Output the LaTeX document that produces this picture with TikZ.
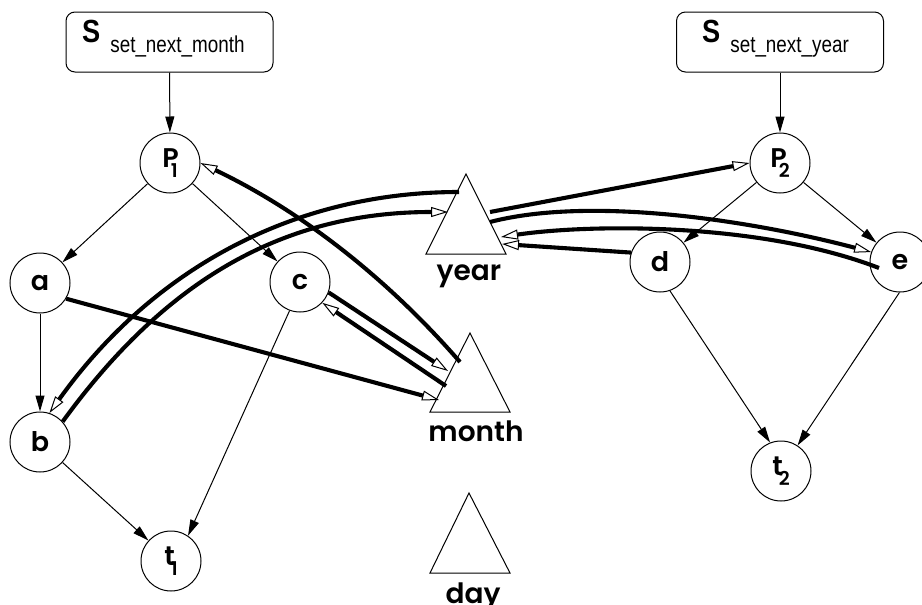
\documentclass[tikz,border=0pt]{standalone}
\usepackage{fontspec}
\usepackage{graphicx}
\setmainfont{Liberation Sans}
\newfontfamily\labfont{Poppins SemiBold}
\usetikzlibrary{arrows.meta}
\newcommand\mysubx[3]{#1\kern#2\raisebox{-10pt}{\fontsize{19}{19}\selectfont #3}}
\tikzset{
  statec/.style={circle, draw, line width=1pt, minimum size=60pt, inner sep=0pt,
    font=\labfont\fontsize{27}{27}\selectfont},
  sbox/.style={draw, rounded corners=9pt, line width=1pt, minimum width=207pt,
    minimum height=60pt, inner sep=0pt},
  stext/.style={anchor=base west, inner sep=0pt},
  tri/.style={draw, line width=1pt, line join=miter},
  trilabel/.style={anchor=base, inner sep=0pt, font=\labfont\fontsize{28}{28}\selectfont},
  thinarrow/.style={line width=1pt, -{Triangle[length=16pt,width=9pt]}},
  thickarrow/.style={line width=4.1pt, -{Triangle[open,length=17pt,width=10pt,line width=1pt]}}
}
\begin{document}
\begin{tikzpicture}[x=1pt,y=-1pt]
\useasboundingbox (0,0) rectangle (922,605);

% S boxes
\node (S1) [sbox] at (169.5,42) {};
\node (S1t) [stext] at (82,42.7) {\scalebox{0.85}[1]{\fontsize{32}{32}\selectfont\bfseries S}\hspace{10pt}\raisebox{-9.6pt}{\scalebox{0.82}[1]{\fontsize{23}{23}\selectfont set\_next\_month}}};
\node (S2) [sbox] at (780,42) {};
\node (S2t) [stext] at (702,42.7) {\scalebox{0.85}[1]{\fontsize{32}{32}\selectfont\bfseries S}\hspace{10pt}\raisebox{-9.6pt}{\scalebox{0.82}[1]{\fontsize{23}{23}\selectfont set\_next\_year}}};

% circles
\node (P1) [statec] at (170,163) {\mysubx{P}{-8pt}{1}};
\node (a) [statec] at (40,283) {a};
\node (c) [statec] at (300,282) {c};
\node (b) [statec] at (40,442) {b};
\node (t1) [statec] at (171,561) {\mysubx{t}{-4pt}{1}};
\node (P2) [statec] at (780,163) {\mysubx{P}{-8pt}{2}};
\node (d) [statec] at (660,262) {d};
\node (e) [statec] at (900,262) {e};
\node (t2) [statec] at (781,471) {\mysubx{t}{-4pt}{2}};

% triangles
\draw[tri] (466,174) -- (426,254) -- (506,254) -- cycle;
\draw[tri] (470,333) -- (430,412) -- (510,412) -- cycle;
\draw[tri] (469,493) -- (430,573) -- (510,573) -- cycle;
\node (yearL) [trilabel] at (469,280) {year};
\node (monthL) [trilabel] at (476,441.7) {month};
\node (dayL) [trilabel] at (473,603) {day};

% connector end points on triangles
\coordinate (yA) at (459,192);
\coordinate (yB) at (448,212);
\coordinate (yC) at (490,212);
\coordinate (yD) at (490,222);
\coordinate (yE) at (501,237);
\coordinate (yF) at (502,244);
\coordinate (mA) at (460,362);
\coordinate (mB) at (448,371);
\coordinate (mC) at (446,386);
\coordinate (mD) at (439,400);
\coordinate (eA) at (879,268);

% thin arrows
\draw[thinarrow] (S1) -- (P1);
\draw[thinarrow] (S2) -- (P2);
\draw[thinarrow] (P1) -- (a);
\draw[thinarrow] (P1) -- (c);
\draw[thinarrow] (a) -- (b);
\draw[thinarrow] (b) -- (t1);
\draw[thinarrow] (c.250) -- (t1.56);
\draw[thinarrow] (P2) -- (d);
\draw[thinarrow] (P2) -- (e);
\draw[thinarrow] (d.-71) -- (t2.111);
\draw[thinarrow] (e.-91) -- (t2.57);

% thick arrows
\draw[thickarrow] (mA) .. controls (387,278) and (301,211) .. (P1.0);
\draw[thickarrow] (c.-20) -- (mB);
\draw[thickarrow] (mC) -- (c.-43);
\draw[thickarrow] (a.-31) -- (mD);
\draw[thickarrow] (yA) .. controls (289,192) and (149.5,273) .. (b.72);
\draw[thickarrow] (b.42) .. controls (162,285) and (278,212) .. (yB);
\draw[thickarrow] (yC) -- (P2.180);
\draw[thickarrow] (yD) .. controls (590,196) and (750,220) .. (e.161);
\draw[thickarrow] (eA) .. controls (760,222) and (590,224) .. (yE);
\draw[thickarrow] (d.162) -- (yF);
\end{tikzpicture}
\end{document}
